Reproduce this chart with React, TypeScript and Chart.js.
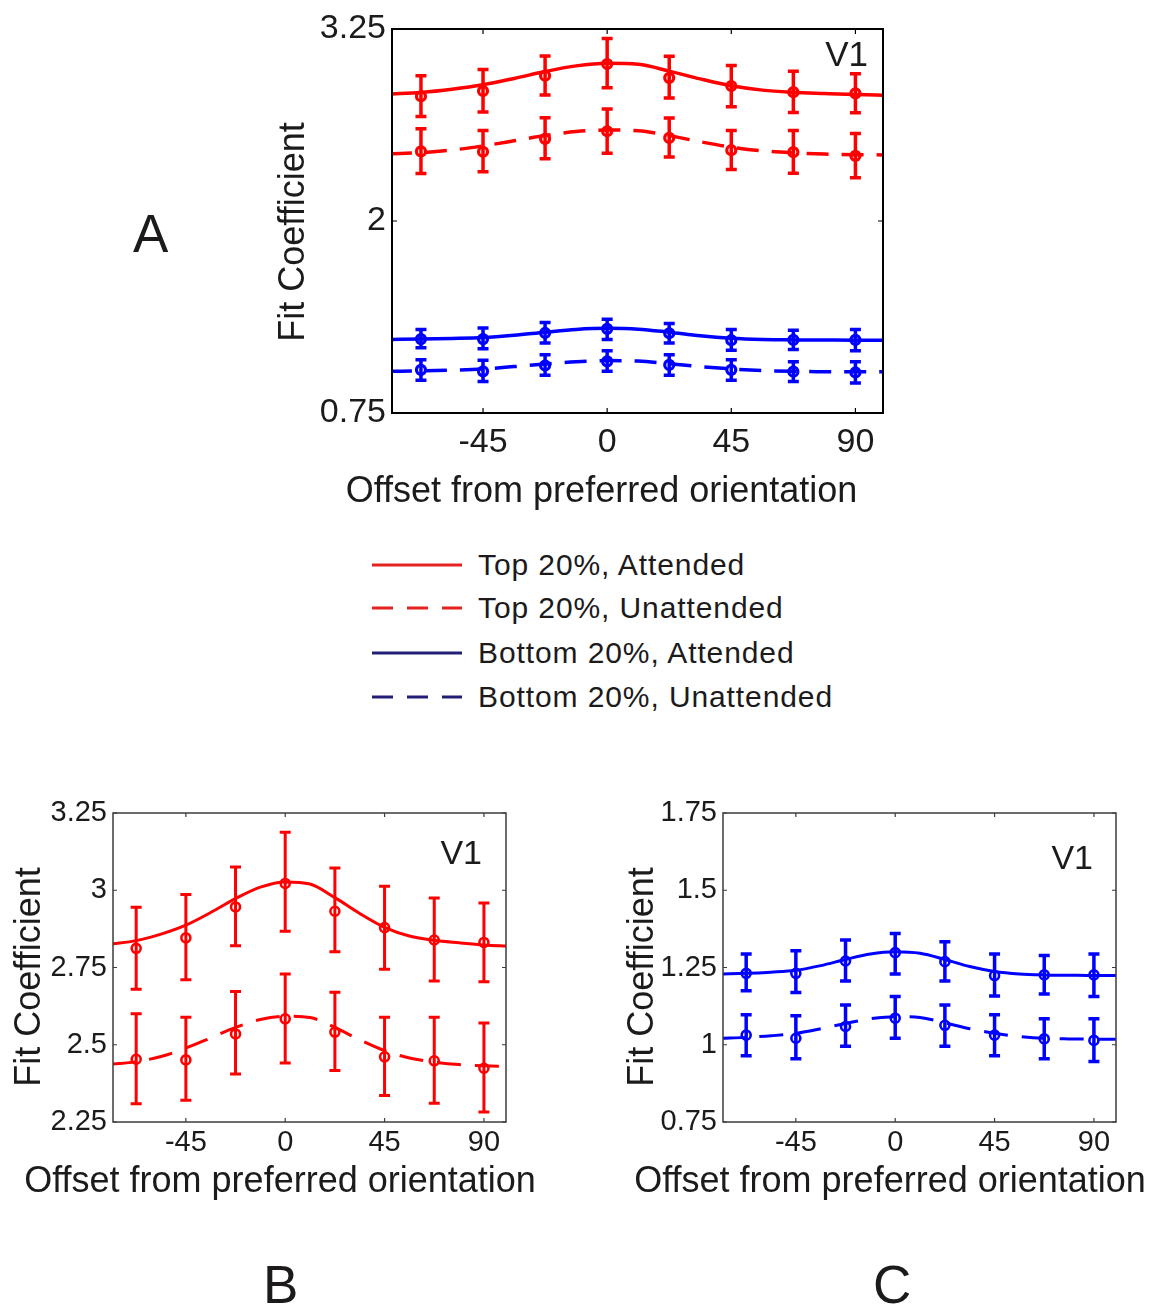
import { useEffect, useRef } from 'react';
import { Chart, registerables } from 'chart.js';

Chart.register(...registerables);

const FONT = "'Liberation Sans', Arial, Helvetica, sans-serif";
const TEXT = '#1c1a1b';
const RED = '#ff0000';
const BLUE = '#0000ff';
const LEGEND_RED = '#e3231f';
const LEGEND_NAVY = '#221e76';

// Orientation offsets (deg) where the data were measured
const OFFSETS = [-67.5, -45, -22.5, 0, 22.5, 45, 67.5, 90];
const X_TICKS = [-45, 0, 45, 90];
// Sample positions of the fitted tuning curves
const CURVE_X = [-78.75, -67.5, -56.25, -45, -33.75, -22.5, -11.25, 0, 11.25, 22.5, 33.75, 45, 56.25, 67.5, 78.75, 90, 101.25];

// Top 20%, attended
const TOP_ATT_MEAN = [2.812, 2.846, 2.946, 3.022, 2.932, 2.879, 2.839, 2.831];
const TOP_ATT_HI = [2.945, 2.986, 3.075, 3.188, 3.072, 3.013, 2.975, 2.959];
const TOP_ATT_LO = [2.68, 2.71, 2.82, 2.867, 2.801, 2.744, 2.706, 2.704];
const TOP_ATT_FIT = [2.826, 2.837, 2.858, 2.887, 2.928, 2.973, 3.01, 3.027, 3.02, 2.976, 2.925, 2.88, 2.852, 2.838, 2.83, 2.823, 2.819];

// Top 20%, unattended
const TOP_UNATT_MEAN = [2.453, 2.451, 2.535, 2.584, 2.541, 2.461, 2.448, 2.424];
const TOP_UNATT_HI = [2.6, 2.589, 2.672, 2.729, 2.67, 2.589, 2.589, 2.57];
const TOP_UNATT_LO = [2.309, 2.32, 2.405, 2.441, 2.417, 2.336, 2.311, 2.282];
const TOP_UNATT_FIT = [2.437, 2.445, 2.462, 2.489, 2.522, 2.556, 2.582, 2.592, 2.588, 2.556, 2.516, 2.481, 2.457, 2.444, 2.436, 2.432, 2.43];

// Bottom 20%, attended
const BOT_ATT_MEAN = [1.231, 1.231, 1.271, 1.298, 1.269, 1.224, 1.226, 1.226];
const BOT_ATT_HI = [1.294, 1.304, 1.339, 1.36, 1.333, 1.294, 1.289, 1.294];
const BOT_ATT_LO = [1.175, 1.169, 1.206, 1.229, 1.206, 1.158, 1.164, 1.156];
const BOT_ATT_FIT = [1.229, 1.231, 1.235, 1.241, 1.256, 1.276, 1.294, 1.301, 1.296, 1.276, 1.253, 1.237, 1.229, 1.226, 1.225, 1.224, 1.224];

// Bottom 20%, unattended
const BOT_UNATT_MEAN = [1.031, 1.021, 1.059, 1.086, 1.063, 1.031, 1.019, 1.014];
const BOT_UNATT_HI = [1.097, 1.094, 1.129, 1.156, 1.129, 1.097, 1.084, 1.084];
const BOT_UNATT_LO = [0.964, 0.955, 0.995, 1.021, 0.995, 0.964, 0.955, 0.946];
const BOT_UNATT_FIT = [1.021, 1.024, 1.029, 1.037, 1.052, 1.069, 1.084, 1.091, 1.088, 1.071, 1.052, 1.037, 1.027, 1.021, 1.019, 1.018, 1.018];

const Y_TICKS_A = [0.75, 2, 3.25];
const Y_TICKS_B = [2.25, 2.5, 2.75, 3, 3.25];
const Y_TICKS_C = [0.75, 1, 1.25, 1.5, 1.75];

const LEGEND_LABELS = ['Top 20%, Attended', 'Top 20%, Unattended', 'Bottom 20%, Attended', 'Bottom 20%, Unattended'];

type Series = { color: string; dashed: boolean; mean: number[]; hi: number[]; lo: number[]; fit: number[] };

const TOP_ATT: Series = { color: RED, dashed: false, mean: TOP_ATT_MEAN, hi: TOP_ATT_HI, lo: TOP_ATT_LO, fit: TOP_ATT_FIT };
const TOP_UNATT: Series = { color: RED, dashed: true, mean: TOP_UNATT_MEAN, hi: TOP_UNATT_HI, lo: TOP_UNATT_LO, fit: TOP_UNATT_FIT };
const BOT_ATT: Series = { color: BLUE, dashed: false, mean: BOT_ATT_MEAN, hi: BOT_ATT_HI, lo: BOT_ATT_LO, fit: BOT_ATT_FIT };
const BOT_UNATT: Series = { color: BLUE, dashed: true, mean: BOT_UNATT_MEAN, hi: BOT_UNATT_HI, lo: BOT_UNATT_LO, fit: BOT_UNATT_FIT };

type PanelCfg = {
  left: number; top: number; w: number; h: number;
  pad: { left: number; right: number; top: number; bottom: number };
  yWidth: number; xHeight: number;
  yMin: number; yMax: number; yTicks: number[];
  series: Series[];
  tickFont: number; xTickPad: number; yTickPad: number;
  lineW: number; dash: number[]; pointR: number; pointBorder: number;
  barW: number; capW: number;
  frameColor: string; frameW: number; tickLen: number;
  v1: { dx: number; dy: number; size: number };
  xTitle: { dx: number; dy: number };
  yTitle: { dx: number; dy: number };
};

const PANEL_A: PanelCfg = {
  left: 250, top: 0, w: 660, h: 530,
  pad: { left: 0, right: 27, top: 29, bottom: 0 },
  yWidth: 142, xHeight: 117,
  yMin: 0.75, yMax: 3.25, yTicks: Y_TICKS_A,
  series: [TOP_ATT, TOP_UNATT, BOT_ATT, BOT_UNATT],
  tickFont: 34, xTickPad: 9, yTickPad: 6,
  lineW: 3.5, dash: [22, 13], pointR: 4.5, pointBorder: 3.2,
  barW: 3.5, capW: 11,
  frameColor: '#000000', frameW: 2, tickLen: 5,
  v1: { dx: -15, dy: 27, size: 35 },
  xTitle: { dx: -36, dy: 79 },
  yTitle: { dx: -98, dy: 11 },
};

const PANEL_B: PanelCfg = {
  left: 0, top: 780, w: 560, h: 430,
  pad: { left: 0, right: 54, top: 33, bottom: 0 },
  yWidth: 113, xHeight: 88,
  yMin: 2.25, yMax: 3.25, yTicks: Y_TICKS_B,
  series: [TOP_ATT, TOP_UNATT],
  tickFont: 29, xTickPad: 4, yTickPad: 6,
  lineW: 3, dash: [24, 14], pointR: 4.5, pointBorder: 2.6,
  barW: 3, capW: 11,
  frameColor: '#3c3c3c', frameW: 1.5, tickLen: 4,
  v1: { dx: -24, dy: 42, size: 34 },
  xTitle: { dx: -29.5, dy: 60 },
  yTitle: { dx: -83, dy: 9.5 },
};

const PANEL_C: PanelCfg = {
  ...PANEL_B,
  left: 610, top: 780, w: 541, h: 430,
  pad: { left: 0, right: 35, top: 33, bottom: 0 },
  yMin: 0.75, yMax: 1.75, yTicks: Y_TICKS_C,
  series: [BOT_ATT, BOT_UNATT],
  barW: 3.5,
  v1: { dx: -23, dy: 47, size: 34 },
  xTitle: { dx: -29.5, dy: 60 },
  yTitle: { dx: -80, dy: 9.5 },
};

function makeDecorPlugin(cfg: PanelCfg) {
  return {
    id: 'panelDecor',
    afterDatasetsDraw(chart: any) {
      const { ctx } = chart;
      const xs = chart.scales.x;
      const ys = chart.scales.y;
      // error bars with caps
      cfg.series.forEach((s) => {
        ctx.save();
        ctx.strokeStyle = s.color;
        ctx.lineWidth = cfg.barW;
        ctx.lineCap = 'butt';
        OFFSETS.forEach((xv, i) => {
          const px = xs.getPixelForValue(xv);
          const yh = ys.getPixelForValue(s.hi[i]);
          const yl = ys.getPixelForValue(s.lo[i]);
          ctx.beginPath();
          ctx.moveTo(px, yh);
          ctx.lineTo(px, yl);
          ctx.moveTo(px - cfg.capW / 2, yh);
          ctx.lineTo(px + cfg.capW / 2, yh);
          ctx.moveTo(px - cfg.capW / 2, yl);
          ctx.lineTo(px + cfg.capW / 2, yl);
          ctx.stroke();
        });
        ctx.restore();
      });
    },
    afterDraw(chart: any) {
      const { ctx, chartArea: a } = chart;
      const xs = chart.scales.x;
      const ys = chart.scales.y;
      ctx.save();
      // box frame
      ctx.strokeStyle = cfg.frameColor;
      ctx.lineWidth = cfg.frameW;
      ctx.strokeRect(a.left, a.top, a.right - a.left, a.bottom - a.top);
      // inward tick marks on all four sides
      ctx.lineWidth = 1.2;
      ctx.beginPath();
      xs.ticks.forEach((t: any) => {
        const px = xs.getPixelForValue(t.value);
        ctx.moveTo(px, a.bottom);
        ctx.lineTo(px, a.bottom - cfg.tickLen);
        ctx.moveTo(px, a.top);
        ctx.lineTo(px, a.top + cfg.tickLen);
      });
      ys.ticks.forEach((t: any) => {
        const py = ys.getPixelForValue(t.value);
        ctx.moveTo(a.left, py);
        ctx.lineTo(a.left + cfg.tickLen, py);
        ctx.moveTo(a.right, py);
        ctx.lineTo(a.right - cfg.tickLen, py);
      });
      ctx.stroke();
      // texts
      ctx.fillStyle = TEXT;
      ctx.textBaseline = 'middle';
      ctx.font = `${cfg.v1.size}px ${FONT}`;
      ctx.textAlign = 'right';
      ctx.fillText('V1', a.right + cfg.v1.dx, a.top + cfg.v1.dy);
      ctx.font = `36px ${FONT}`;
      ctx.textAlign = 'center';
      const cx = (a.left + a.right) / 2;
      const cy = (a.top + a.bottom) / 2;
      ctx.fillText('Offset from preferred orientation', cx + cfg.xTitle.dx, a.bottom + cfg.xTitle.dy);
      ctx.translate(a.left + cfg.yTitle.dx, cy + cfg.yTitle.dy);
      ctx.rotate(-Math.PI / 2);
      ctx.fillText('Fit Coefficient', 0, 0);
      ctx.restore();
    },
  };
}

function Panel({ cfg }: { cfg: PanelCfg }) {
  const ref = useRef<HTMLCanvasElement>(null);
  useEffect(() => {
    const canvas = ref.current;
    if (!canvas) return;
    const datasets: any[] = [];
    cfg.series.forEach((s) => {
      datasets.push({
        type: 'line',
        data: CURVE_X.map((x, i) => ({ x, y: s.fit[i] })),
        borderColor: s.color,
        borderWidth: cfg.lineW,
        borderDash: s.dashed ? cfg.dash : [],
        pointRadius: 0,
        cubicInterpolationMode: 'monotone',
        fill: false,
        clip: 0,
      });
      datasets.push({
        type: 'line',
        data: OFFSETS.map((x, i) => ({ x, y: s.mean[i] })),
        showLine: false,
        pointRadius: cfg.pointR,
        pointHoverRadius: cfg.pointR,
        pointBorderWidth: cfg.pointBorder,
        pointBackgroundColor: 'rgba(0,0,0,0)',
        pointBorderColor: s.color,
        borderColor: s.color,
      });
    });
    const tickFont = { family: FONT, size: cfg.tickFont };
    const chart = new Chart(canvas, {
      type: 'line',
      data: { datasets },
      options: {
        animation: false,
        responsive: false,
        maintainAspectRatio: false,
        events: [],
        layout: { padding: cfg.pad },
        plugins: { legend: { display: false }, tooltip: { enabled: false } },
        scales: {
          x: {
            type: 'linear',
            min: -78,
            max: 100,
            afterBuildTicks: (s: any) => {
              s.ticks = X_TICKS.map((v) => ({ value: v }));
            },
            afterFit: (s: any) => {
              s.height = cfg.xHeight;
            },
            grid: { display: false, drawTicks: false },
            border: { display: false },
            ticks: {
              font: tickFont,
              color: TEXT,
              padding: cfg.xTickPad,
              maxRotation: 0,
              autoSkip: false,
              callback: (v: any) => String(v),
            },
          },
          y: {
            type: 'linear',
            min: cfg.yMin,
            max: cfg.yMax,
            afterBuildTicks: (s: any) => {
              s.ticks = cfg.yTicks.map((v) => ({ value: v }));
            },
            afterFit: (s: any) => {
              s.width = cfg.yWidth;
            },
            grid: { display: false, drawTicks: false },
            border: { display: false },
            ticks: {
              font: tickFont,
              color: TEXT,
              padding: cfg.yTickPad,
              autoSkip: false,
              callback: (v: any) => String(v),
            },
          },
        },
      },
      plugins: [makeDecorPlugin(cfg)],
    } as any);
    return () => chart.destroy();
  }, [cfg]);
  return (
    <canvas
      ref={ref}
      width={cfg.w}
      height={cfg.h}
      style={{ position: 'absolute', left: cfg.left, top: cfg.top, width: cfg.w, height: cfg.h }}
    />
  );
}

const LEGEND_COLORS = [LEGEND_RED, LEGEND_RED, LEGEND_NAVY, LEGEND_NAVY];
const LEGEND_DASHED = [false, true, false, true];
const LEGEND_ROWS_Y = [565, 608, 653, 697];

function Legend() {
  return (
    <>
      {LEGEND_LABELS.map((label, i) => (
        <div
          key={label}
          style={{
            position: 'absolute',
            left: 372,
            top: LEGEND_ROWS_Y[i] - 20,
            height: 40,
            display: 'flex',
            alignItems: 'center',
            whiteSpace: 'nowrap',
          }}
        >
          <svg width={90} height={6} style={{ display: 'block' }}>
            <line
              x1={0}
              y1={3}
              x2={90}
              y2={3}
              stroke={LEGEND_COLORS[i]}
              strokeWidth={3.2}
              strokeDasharray={LEGEND_DASHED[i] ? '21 14' : undefined}
            />
          </svg>
          <span style={{ marginLeft: 16, fontFamily: FONT, fontSize: 30, letterSpacing: 0.9, color: TEXT }}>{label}</span>
        </div>
      ))}
    </>
  );
}

function Letter({ text, left, top }: { text: string; left: number; top: number }) {
  return (
    <div
      style={{
        position: 'absolute',
        left,
        top,
        fontFamily: FONT,
        fontSize: 53,
        lineHeight: '53px',
        color: TEXT,
      }}
    >
      {text}
    </div>
  );
}

export default function App() {
  return (
    <div style={{ position: 'absolute', left: 0, top: 0, width: 1151, height: 1306, background: '#ffffff', overflow: 'hidden' }}>
      <Panel cfg={PANEL_A} />
      <Panel cfg={PANEL_B} />
      <Panel cfg={PANEL_C} />
      <Legend />
      <Letter text="A" left={133} top={207} />
      <Letter text="B" left={263} top={1258} />
      <Letter text="C" left={873} top={1258} />
    </div>
  );
}
